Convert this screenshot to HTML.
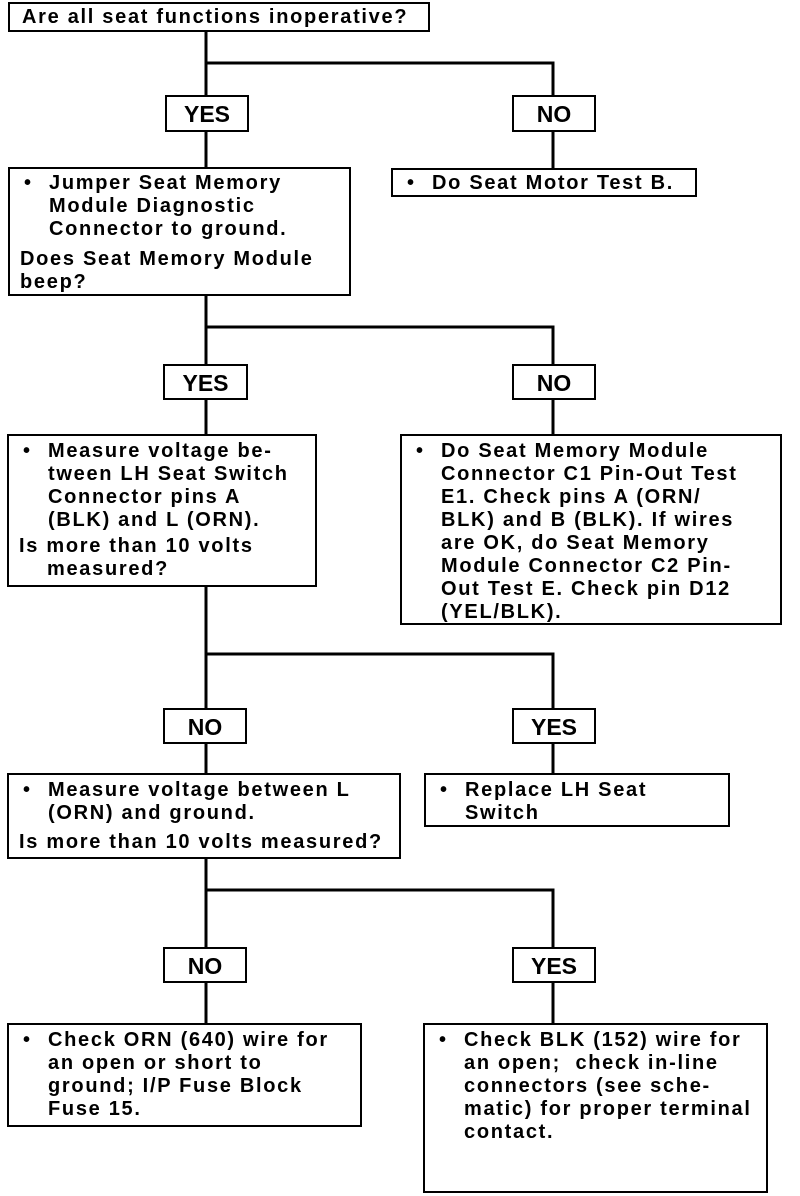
<!DOCTYPE html>
<html><head><meta charset="utf-8"><style>
body{margin:0;width:800px;height:1196px;background:#fff;position:relative;overflow:hidden;font-family:"Liberation Sans",Arial,sans-serif;font-weight:bold;font-size:20px;letter-spacing:1.7px;color:#000}
.b{position:absolute;border:2px solid #000;box-sizing:border-box;background:#fff;line-height:23px;white-space:nowrap}
.l{position:absolute;font-size:23px;text-align:center;line-height:34px;letter-spacing:0}
.i{position:relative;padding-left:29px}
.i:before{content:"•";position:absolute;left:4px;top:0;letter-spacing:0}
p{margin:0}
svg{position:absolute;left:0;top:0}
</style></head><body>
<svg width="800" height="1196" stroke="#000" stroke-width="3" fill="none">
<path d="M206 32V167M206 63H553V170M206 296V365M206 327H553V365M206 587V708M206 654H553V708M206 859V947M206 890H553V947M553 132V168M553 400V434M553 744V773M553 983V1023M206 983V1023M206 744V773M206 400V434"/>
</svg>
<div class="b" style="left:8px;top:2px;width:422px;height:30px;padding:2px 12px;line-height:22px">Are all seat functions inoperative?</div>
<div class="b l" style="left:165px;top:95px;width:84px;height:37px">YES</div>
<div class="b l" style="left:512px;top:95px;width:84px;height:37px">NO</div>
<div class="b" style="left:8px;top:167px;width:343px;height:129px;padding:3px 10px">
<p class="i">Jumper Seat Memory<br>Module Diagnostic<br>Connector to ground.</p><p style="margin-top:7px">Does Seat Memory Module<br>beep?</p></div>
<div class="b" style="left:391px;top:168px;width:306px;height:29px;padding:2px 10px;line-height:22px"><p class="i">Do Seat Motor Test B.</p></div>
<div class="b l" style="left:163px;top:364px;width:85px;height:36px">YES</div>
<div class="b l" style="left:512px;top:364px;width:84px;height:36px">NO</div>
<div class="b" style="left:7px;top:434px;width:310px;height:153px;padding:4px 10px">
<p class="i">Measure voltage be-<br>tween LH Seat Switch<br>Connector pins A<br>(BLK) and L (ORN).</p><p style="margin-top:3px">Is more than 10 volts<br><span style="padding-left:28px"></span>measured?</p></div>
<div class="b" style="left:400px;top:434px;width:382px;height:191px;padding:4px 10px">
<p class="i">Do Seat Memory Module<br>Connector C1 Pin-Out Test<br>E1. Check pins A (ORN/<br>BLK) and B (BLK). If wires<br>are OK, do Seat Memory<br>Module Connector C2 Pin-<br>Out Test E. Check pin D12<br>(YEL/BLK).</p></div>
<div class="b l" style="left:163px;top:708px;width:84px;height:36px">NO</div>
<div class="b l" style="left:512px;top:708px;width:84px;height:36px">YES</div>
<div class="b" style="left:7px;top:773px;width:394px;height:86px;padding:4px 10px">
<p class="i">Measure voltage between L<br>(ORN) and ground.</p><p style="margin-top:6px">Is more than 10 volts measured?</p></div>
<div class="b" style="left:424px;top:773px;width:306px;height:54px;padding:4px 10px"><p class="i">Replace LH Seat<br>Switch</p></div>
<div class="b l" style="left:163px;top:947px;width:84px;height:36px">NO</div>
<div class="b l" style="left:512px;top:947px;width:84px;height:36px">YES</div>
<div class="b" style="left:7px;top:1023px;width:355px;height:104px;padding:4px 10px">
<p class="i">Check ORN (640) wire for<br>an open or short to<br>ground; I/P Fuse Block<br>Fuse 15.</p></div>
<div class="b" style="left:423px;top:1023px;width:345px;height:170px;padding:4px 10px">
<p class="i">Check BLK (152) wire for<br>an open;&nbsp; check in-line<br>connectors (see sche-<br>matic) for proper terminal<br>contact.</p></div>
</body></html>
